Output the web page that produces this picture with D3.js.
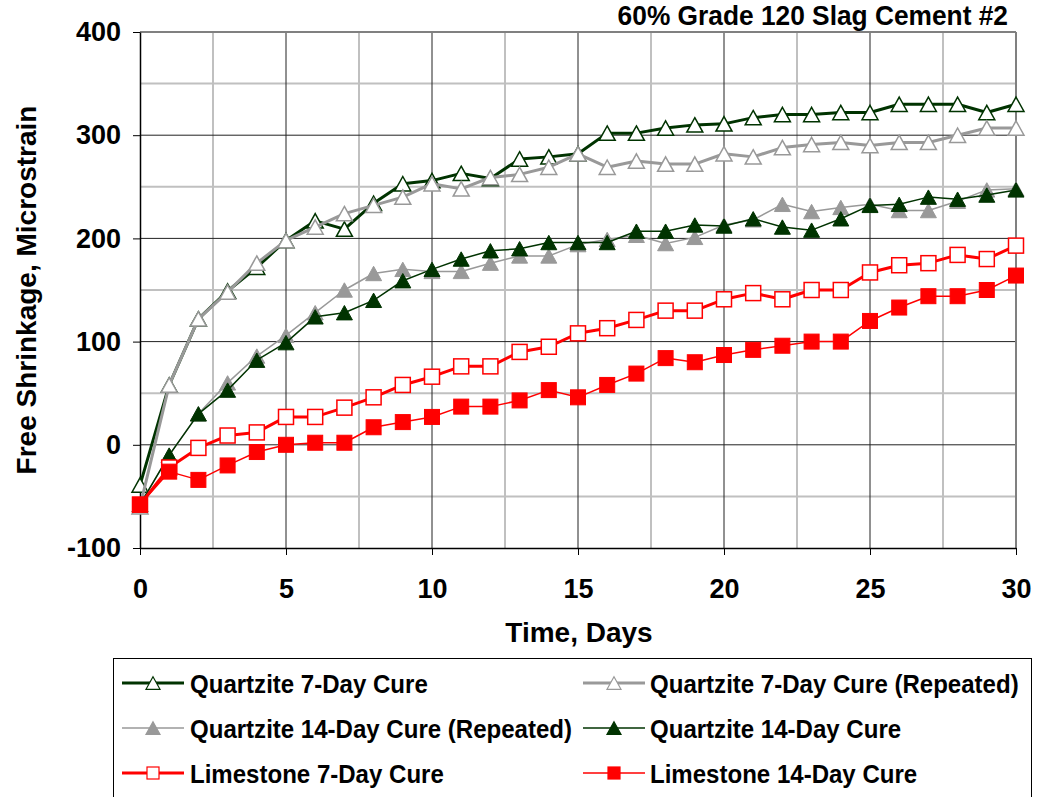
<!DOCTYPE html>
<html><head><meta charset="utf-8">
<script src="https://cdn.jsdelivr.net/npm/d3@7"></script>
<style>
body{margin:0;background:#fff;}
text{font-family:"Liberation Sans",Arial,sans-serif;font-weight:bold;}
</style></head>
<body><svg id="c" width="1037" height="797"></svg>
<script>
const days = d3.range(0, 31);
const q7  = [-39,58,122,149,172,198,217,209,234,253,256,263,258,277,279,282,302,302,307,310,311,317,320,320,322,322,330,330,330,322,330];
const q7r = [-60,58,122,148,176,198,211,224,232,240,253,248,259,262,269,282,269,275,272,272,282,279,288,291,293,290,293,293,300,307,307];
const q14r= [-58,-10,30,60,86,106,128,150,166,170,168,168,176,183,183,194,199,203,195,201,213,218,233,226,230,233,227,227,236,247,248];
const q14 = [-58,-10,30,53,82,99,124,128,140,159,170,180,188,190,196,196,196,207,207,213,212,219,211,208,219,232,233,240,238,242,247];
const l7  = [-58,-22,-3,9,12,27,27,36,46,58,66,76,76,90,95,108,113,121,130,130,141,147,141,150,150,167,174,176,184,180,193];
const l14 = [-58,-26,-34,-20,-7,0,2,2,17,22,27,37,37,43,53,46,58,69,84,80,87,92,96,100,100,120,133,144,144,150,164];
const seriesNames = ["Quartzite 7-Day Cure","Quartzite 7-Day Cure (Repeated)","Quartzite 14-Day Cure (Repeated)","Quartzite 14-Day Cure","Limestone 7-Day Cure","Limestone 14-Day Cure"];
const yTicks = [-100,0,100,200,300,400];
const xTicks = [0,5,10,15,20,25,30];
const title = "60% Grade 120 Slag Cement #2";

const DG="#003300", GR="#999999", RD="#ff0000";
const series = [
  {name:seriesNames[0], vals:q7,  color:DG, lw:3,   shape:"tri", fill:"#fff"},
  {name:seriesNames[1], vals:q7r, color:GR, lw:3,   shape:"tri", fill:"#fff"},
  {name:seriesNames[2], vals:q14r,color:GR, lw:1.5, shape:"tri", fill:GR},
  {name:seriesNames[3], vals:q14, color:DG, lw:1.5, shape:"tri", fill:DG},
  {name:seriesNames[4], vals:l7,  color:RD, lw:3,   shape:"sq",  fill:"#fff"},
  {name:seriesNames[5], vals:l14, color:RD, lw:1.5, shape:"sq",  fill:RD}
];

const svg = d3.select("#c");
const x = d3.scaleLinear().domain([0,30]).range([140,1016]);
const y = d3.scaleLinear().domain([-100,400]).range([548,32]);

// grid
const g = svg.append("g");
d3.range(-50,400,100).forEach(v=>g.append("line").attr("x1",x(0)).attr("x2",x(30)).attr("y1",y(v)).attr("y2",y(v)).attr("stroke","#c0c0c0").attr("stroke-width",2));
d3.range(2.5,30,5).forEach(v=>g.append("line").attr("y1",y(-100)).attr("y2",y(400)).attr("x1",x(v)).attr("x2",x(v)).attr("stroke","#c0c0c0").attr("stroke-width",2));
[0,100,200,300].forEach(v=>g.append("line").attr("x1",x(0)).attr("x2",x(30)).attr("y1",y(v)).attr("y2",y(v)).attr("stroke","#222").attr("stroke-width",1));
[5,10,15,20,25].forEach(v=>g.append("line").attr("y1",y(-100)).attr("y2",y(400)).attr("x1",x(v)).attr("x2",x(v)).attr("stroke","#222").attr("stroke-width",1));
g.append("line").attr("x1",x(0)).attr("x2",x(30)).attr("y1",y(400)).attr("y2",y(400)).attr("stroke","#808080").attr("stroke-width",2);
g.append("line").attr("x1",x(30)).attr("x2",x(30)).attr("y1",y(-100)).attr("y2",y(400)).attr("stroke","#808080").attr("stroke-width",2);

// axes
const ya = svg.append("g").attr("transform",`translate(${x(0)},0)`)
  .call(d3.axisLeft(y).tickValues(yTicks).tickFormat(d=>String(d)).tickSize(7).tickSizeOuter(0).tickPadding(12));
const xa = svg.append("g").attr("transform",`translate(0,${y(-100)})`)
  .call(d3.axisBottom(x).tickValues(xTicks).tickFormat(d=>String(d)).tickSize(7).tickSizeOuter(0).tickPadding(24));
[ya,xa].forEach(a=>{
  a.selectAll("path.domain").attr("stroke","#000").attr("stroke-width",1.5);
  a.selectAll(".tick line").attr("stroke","#000").attr("stroke-width",1);
  a.selectAll("text").attr("font-size",27).attr("font-family","Liberation Sans, Arial, sans-serif").attr("font-weight","bold").attr("fill","#000");
});
xa.selectAll("text").attr("dy","0.71em");

// markers
function marker(sel, shape, s){
  if(shape==="tri"){
    return sel.append("path").attr("d",`M0,${-s*0.9}L${s},${s*0.9}L${-s},${s*0.9}Z`);
  } else {
    return sel.append("rect").attr("x",-s).attr("y",-s).attr("width",2*s).attr("height",2*s);
  }
}

const line = d3.line().x((d,i)=>x(days[i])).y(d=>y(d));
series.forEach(s=>{
  const gs = svg.append("g");
  gs.append("path").attr("d",line(s.vals)).attr("fill","none").attr("stroke",s.color).attr("stroke-width",s.lw).attr("stroke-linejoin","round");
  s.vals.forEach((v,i)=>{
    const m = gs.append("g").attr("transform",`translate(${x(days[i])},${y(v)})`);
    marker(m, s.shape, s.shape==="tri"?8:7.5)
      .attr("fill",s.fill).attr("stroke",s.color).attr("stroke-width",s.fill==="#fff"?1.5:1);
  });
});

// title (horizontally condensed like the original)
svg.append("text").attr("transform","translate(1008,25) scale(0.94,1)").attr("text-anchor","end").attr("font-size",28).text(title);

// axis titles
svg.append("text").attr("x",x(15)+1).attr("y",642).attr("text-anchor","middle").attr("font-size",28).text("Time, Days");
svg.append("text").attr("transform",`translate(36,${y(150)}) rotate(-90)`).attr("text-anchor","middle").attr("font-size",28).text("Free Shrinkage, Microstrain");

// legend
const lg = svg.append("g");
lg.append("rect").attr("x",113.5).attr("y",658.5).attr("width",918).attr("height",160).attr("fill","#fff").attr("stroke","#000").attr("stroke-width",1);
const cols=[{lx:122, tx:190},{lx:583, tx:650}];
const rows=[683,728,773];
series.forEach((s,i)=>{
  const c = cols[i%2], r = rows[Math.floor(i/2)];
  lg.append("line").attr("x1",c.lx).attr("x2",c.lx+62).attr("y1",r).attr("y2",r).attr("stroke",s.color).attr("stroke-width",s.lw);
  const m = lg.append("g").attr("transform",`translate(${c.lx+31},${r})`);
  marker(m, s.shape, s.shape==="tri"?7:6).attr("fill",s.fill).attr("stroke",s.color).attr("stroke-width",1.2);
  lg.append("text").attr("transform",`translate(${c.tx},${r+10}) scale(0.925,1)`).attr("font-size",26).text(s.name);
});
</script></body></html>
